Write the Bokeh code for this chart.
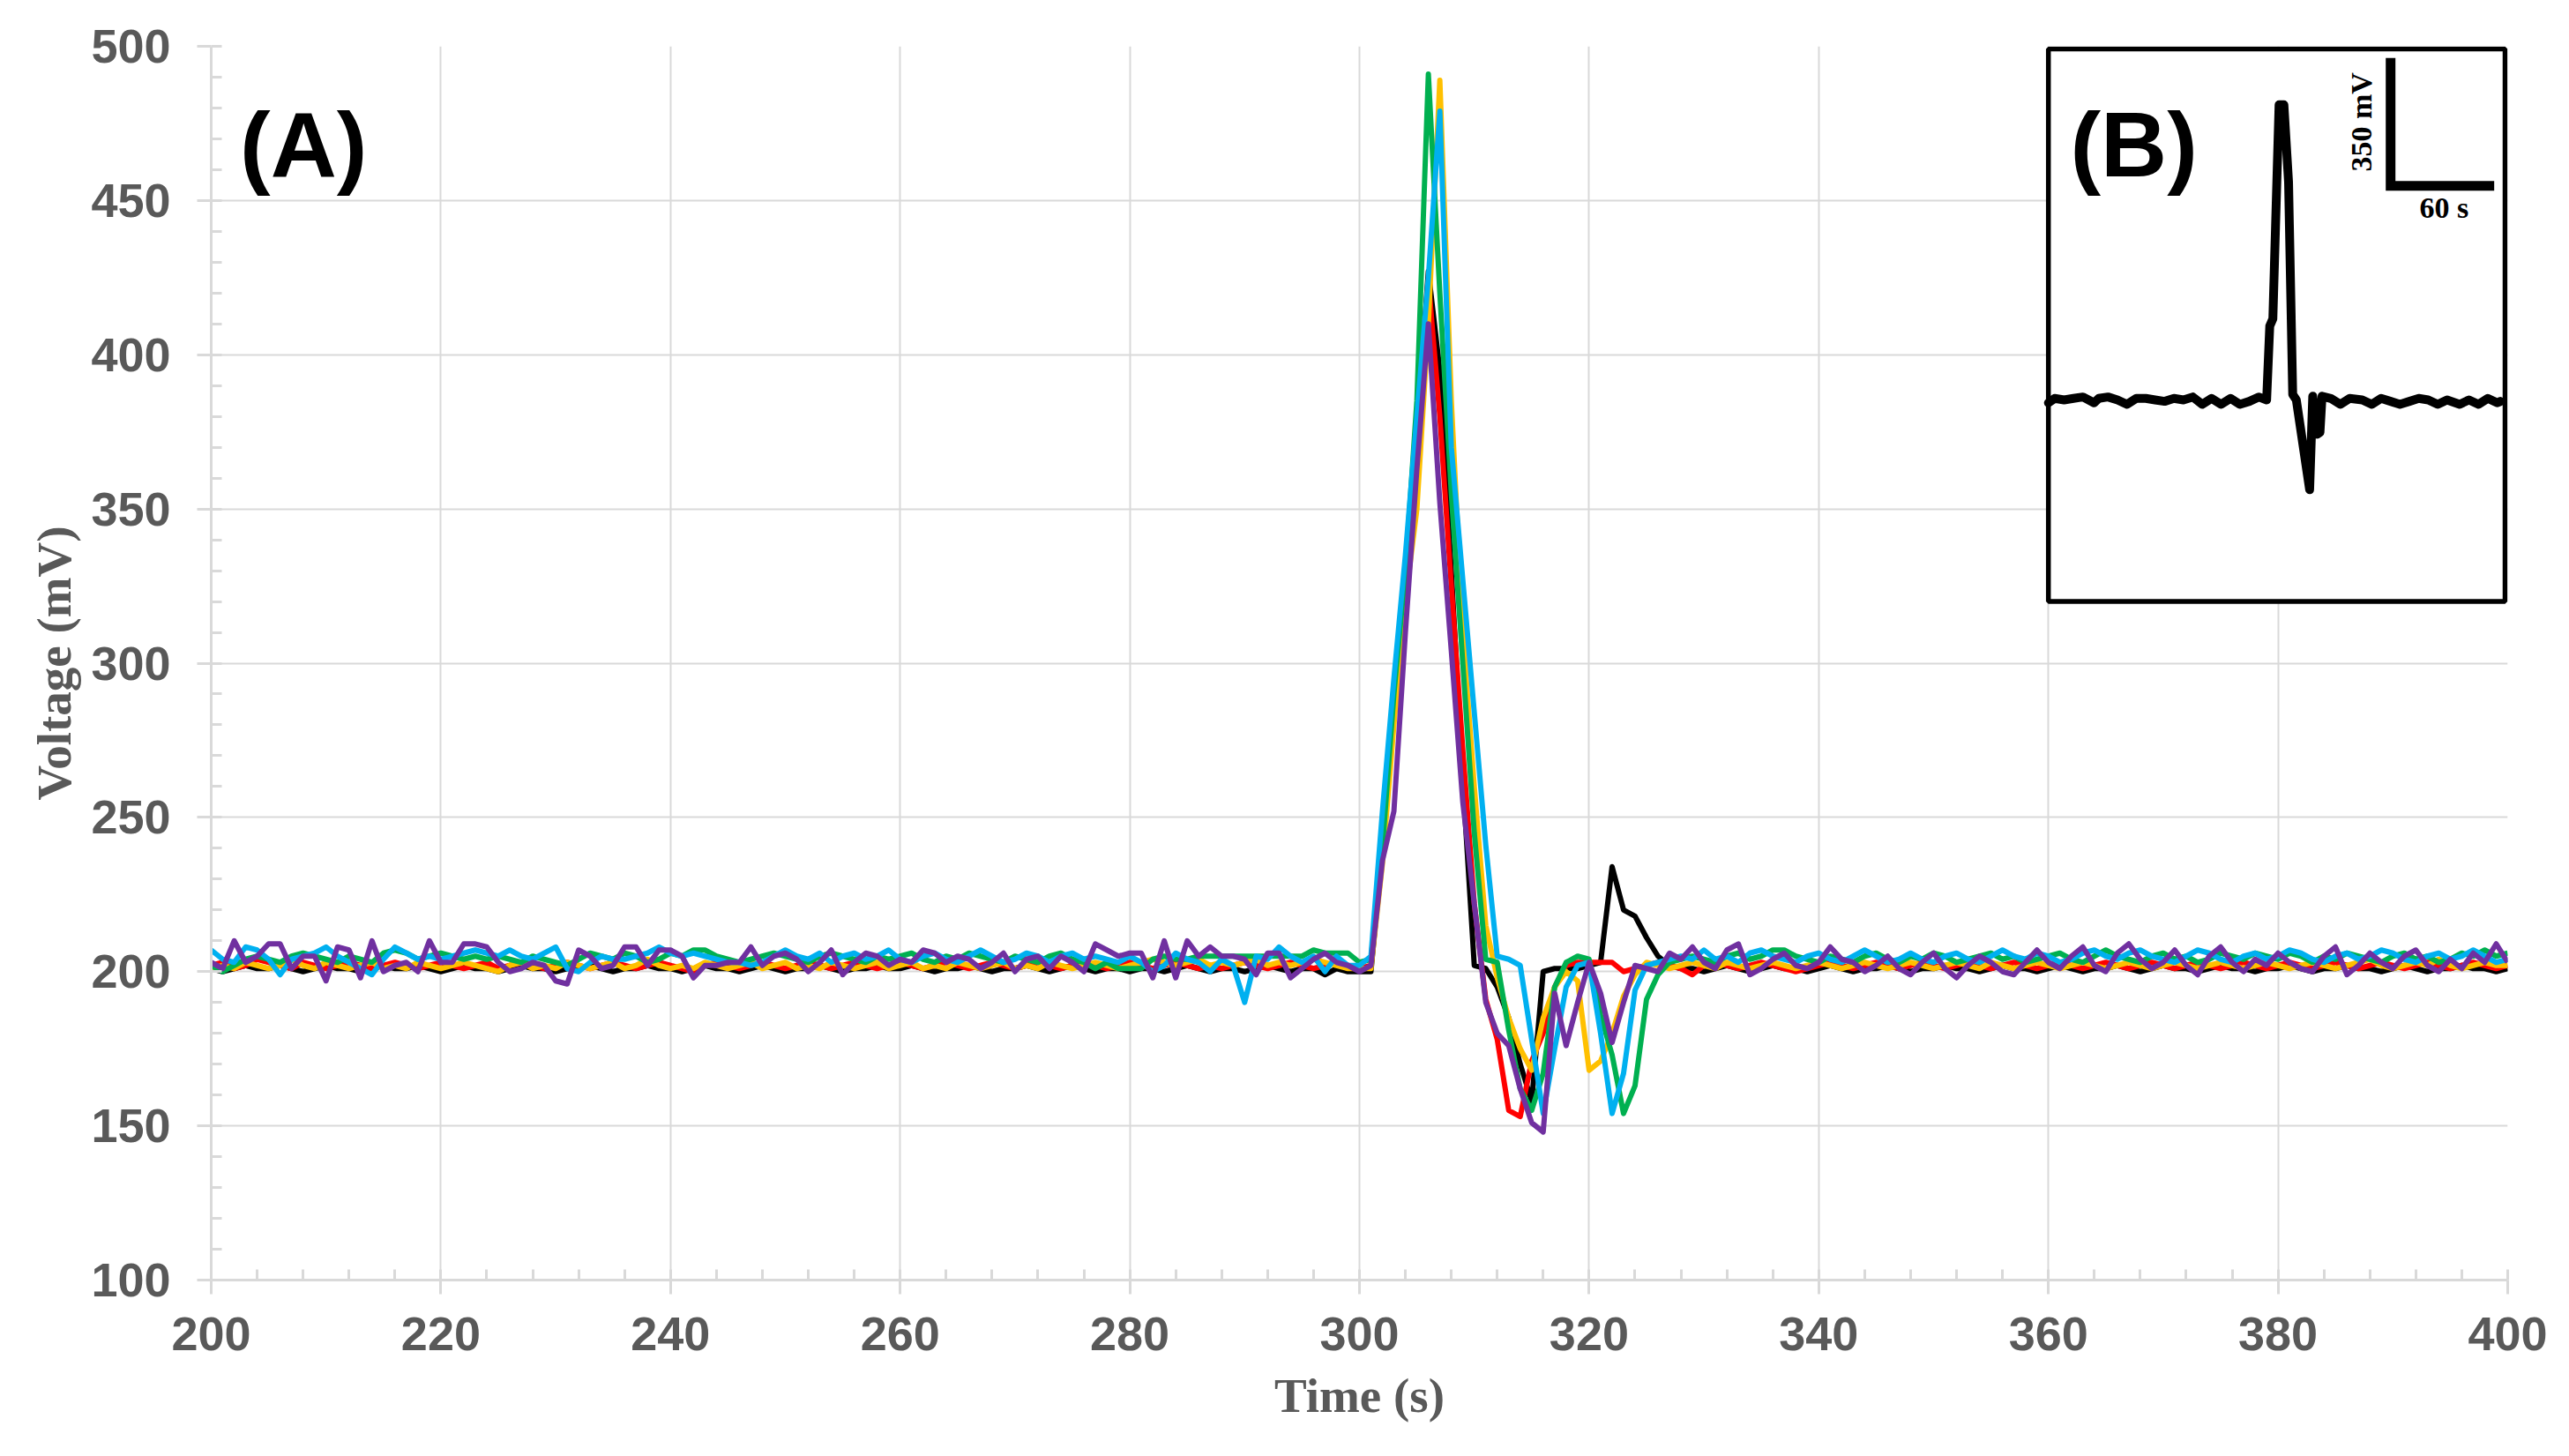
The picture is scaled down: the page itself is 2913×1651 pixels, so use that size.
from math import pi
from bokeh.plotting import figure
from bokeh.models import Range1d, Label, SingleIntervalTicker
from bokeh.embed import file_html
from bokeh.resources import INLINE

# ---------------- main chart data (Time in s, Voltage in mV) ----------------
time_s = list(range(200, 401))

black = [
    201, 200, 201, 202, 201, 201, 202, 201, 200, 201,
    202, 201, 201, 200, 201, 202, 201, 201, 202, 201,
    200, 201, 202, 201, 201, 200, 201, 202, 201, 201,
    200, 201, 201, 202, 201, 200, 201, 201, 202, 201,
    201, 200, 201, 202, 201, 201, 200, 201, 202, 201,
    200, 201, 201, 202, 201, 200, 201, 201, 202, 201,
    201, 202, 201, 200, 201, 201, 202, 201, 200, 201,
    201, 202, 201, 200, 201, 202, 201, 200, 201, 201,
    200, 201, 201, 200, 201, 202, 201, 200, 201, 201,
    200, 201, 202, 201, 200, 201, 201, 199, 201, 200,
    200, 200, 240, 290, 330, 375, 427, 395, 330, 262,
    202, 201, 195, 185, 170, 158, 200, 201, 201, 201,
    202, 203, 234, 220, 218, 211, 205, 202, 201, 201,
    200, 201, 202, 201, 200, 201, 202, 201, 201, 200,
    201, 202, 201, 200, 201, 201, 202, 201, 200, 201,
    201, 202, 201, 201, 200, 201, 202, 201, 201, 200,
    201, 202, 201, 200, 201, 201, 202, 201, 200, 201,
    202, 201, 201, 200, 201, 202, 201, 201, 200, 201,
    201, 202, 201, 200, 201, 201, 202, 201, 201, 200,
    201, 202, 201, 200, 201, 201, 202, 201, 201, 200,
    201,
]

red = [
    202, 203, 201, 202, 204, 203, 202, 201, 203, 202,
    201, 202, 203, 202, 201, 202, 203, 202, 201, 202,
    203, 202, 201, 202, 203, 201, 202, 203, 202, 201,
    202, 203, 202, 201, 202, 203, 202, 201, 202, 203,
    202, 201, 200, 202, 203, 202, 201, 202, 203, 202,
    201, 202, 203, 202, 201, 202, 203, 202, 201, 202,
    203, 202, 201, 202, 203, 202, 201, 202, 203, 202,
    201, 202, 203, 202, 201, 202, 203, 202, 201, 202,
    203, 202, 201, 202, 203, 202, 201, 202, 201, 202,
    203, 202, 201, 202, 203, 202, 201, 202, 203, 202,
    201, 202, 238, 285, 325, 370, 424, 380, 325, 272,
    222, 191, 178, 155, 153, 171, 180, 195, 202, 203,
    203, 203, 203, 200, 201, 202, 203, 202, 201, 199,
    202, 203, 202, 201, 202, 203, 202, 201, 200, 201,
    202, 203, 202, 201, 202, 203, 202, 201, 202, 203,
    202, 201, 202, 203, 202, 201, 202, 203, 202, 201,
    202, 203, 202, 201, 202, 203, 202, 201, 202, 203,
    202, 201, 202, 203, 202, 201, 202, 203, 202, 201,
    202, 203, 202, 201, 202, 203, 202, 201, 202, 203,
    202, 201, 202, 203, 202, 201, 202, 203, 202, 201,
    202,
]

yellow = [
    201, 202, 201, 203, 202, 201, 202, 204, 202, 201,
    203, 202, 201, 202, 203, 201, 202, 201, 203, 202,
    201, 202, 203, 202, 201, 200, 202, 203, 201, 202,
    201, 203, 202, 201, 202, 203, 201, 202, 204, 202,
    201, 202, 201, 203, 202, 201, 202, 203, 201, 202,
    203, 201, 202, 201, 203, 202, 201, 202, 203, 201,
    202, 203, 201, 202, 201, 203, 202, 201, 202, 203,
    201, 202, 201, 203, 202, 201, 202, 203, 202, 201,
    202, 203, 204, 203, 202, 203, 204, 202, 203, 202,
    203, 204, 202, 203, 202, 203, 204, 203, 202, 201,
    201, 201, 235, 280, 320, 350, 410, 489, 385, 310,
    260, 215, 198, 185, 175, 168, 185, 195, 200, 197,
    168, 171, 180, 192, 199, 203, 202, 201, 202, 203,
    202, 201, 203, 202, 201, 202, 203, 202, 201, 202,
    203, 202, 201, 202, 203, 202, 201, 202, 203, 202,
    201, 202, 203, 202, 201, 203, 202, 201, 202, 203,
    202, 201, 202, 203, 202, 201, 202, 203, 202, 201,
    202, 203, 202, 201, 202, 203, 202, 201, 202, 203,
    202, 201, 202, 203, 202, 201, 202, 203, 204, 202,
    201, 202, 203, 202, 204, 202, 201, 202, 203, 202,
    202,
]

green = [
    202, 200, 202, 204, 205, 204, 203, 205, 206, 205,
    204, 203, 205, 204, 203, 206, 207, 206, 204, 205,
    206, 205, 204, 205, 204, 205, 204, 203, 205, 204,
    203, 202, 204, 206, 205, 204, 206, 205, 203, 204,
    206, 205, 207, 207, 205, 204, 203, 204, 205, 206,
    205, 204, 203, 205, 206, 205, 204, 203, 205, 204,
    205, 206, 204, 203, 205, 204, 206, 205, 204, 203,
    205, 204, 203, 205, 206, 204, 203, 201, 203, 201,
    201, 201, 204, 205, 204, 204, 205, 205, 205, 205,
    205, 205, 205, 205, 205, 205, 207, 206, 206, 206,
    203, 204, 240, 290, 330, 385, 491, 420, 355, 300,
    245, 204, 203, 181, 162, 155, 167, 195, 203, 205,
    204, 186, 173, 154, 163, 191, 199, 203, 204, 205,
    204, 203, 205, 206, 204, 205, 207, 207, 205, 204,
    203, 205, 204, 203, 205, 206, 204, 203, 205, 204,
    206, 205, 203, 204, 205, 206, 204, 205, 203, 204,
    205, 206, 204, 203, 205, 207, 205, 204, 203, 205,
    206, 204, 205, 203, 204, 206, 205, 204, 206, 205,
    204, 206, 205, 203, 205, 204, 206, 205, 204, 203,
    205, 206, 204, 205, 203, 204, 206, 205, 207, 205,
    206,
]

cyan = [
    207, 204, 203, 208, 207, 204, 199, 204, 205, 206,
    208, 205, 203, 201, 199, 204, 208, 206, 204, 205,
    204, 205, 206, 207, 206, 205, 207, 205, 204, 206,
    208, 201, 200, 203, 205, 204, 204, 205, 206, 208,
    206, 205, 206, 205, 204, 203, 203, 202, 203, 205,
    207, 205, 204, 206, 203, 205, 206, 204, 205, 207,
    204, 203, 205, 206, 204, 203, 205, 207, 205, 203,
    204, 206, 205, 203, 205, 206, 204, 205, 204, 203,
    205, 203, 200, 202, 206, 204, 203, 200, 204, 202,
    190, 205, 204, 208, 205, 203, 205, 200, 205, 202,
    202, 205, 252, 295, 335, 380, 425, 479, 370, 327,
    284, 241, 205, 204, 202, 178, 154, 175, 195, 202,
    203, 180, 154, 167, 194, 202, 203, 204, 205, 204,
    207, 204, 205, 203, 206, 207, 205, 204, 203, 205,
    206, 204, 203, 205, 207, 205, 203, 204, 206, 204,
    203, 205, 206, 204, 203, 205, 207, 205, 204, 206,
    205, 203, 204, 206, 207, 205, 204, 206, 207, 205,
    204, 203, 205, 207, 206, 204, 203, 205, 206, 204,
    205, 207, 206, 204, 203, 205, 206, 204, 205, 207,
    206, 204, 203, 205, 206, 204, 205, 207, 205, 203,
    204,
]

purple = [
    203, 201, 210, 203, 205, 209, 209, 201, 205, 205,
    197, 208, 207, 198, 210, 200, 202, 203, 200, 210,
    203, 203, 209, 209, 208, 203, 200, 201, 203, 202,
    197, 196, 207, 205, 201, 202, 208, 208, 202, 207,
    207, 205, 198, 202, 202, 203, 203, 208, 202, 205,
    206, 204, 200, 203, 207, 199, 203, 206, 205, 202,
    204, 203, 207, 206, 203, 205, 204, 201, 203, 206,
    200, 204, 205, 201, 205, 203, 200, 209, 207, 205,
    206, 206, 198, 210, 198, 210, 205, 208, 205, 205,
    204, 199, 206, 206, 198, 201, 204, 206, 203, 202,
    200, 202, 236, 252, 310, 363, 410, 352, 304, 255,
    222, 190, 180, 176, 162, 151, 148, 193, 176, 190,
    203, 193, 177, 190, 202, 201, 200, 206, 204, 208,
    203, 201, 207, 209, 199, 201, 204, 206, 202, 201,
    203, 208, 204, 203, 200, 202, 205, 201, 199, 203,
    206, 201, 198, 202, 205, 203, 200, 199, 203, 207,
    203, 201, 205, 208, 202, 200, 206, 209, 204, 201,
    203, 207, 202, 199, 205, 208, 203, 200, 204, 202,
    206, 203, 201, 200, 205, 208, 199, 202, 206, 203,
    201, 205, 207, 202, 200, 204, 201, 206, 203, 209,
    203,
]

series = [("black", "#000000"), ("red", "#FF0000"), ("yellow", "#FFC000"),
          ("green", "#00B050"), ("cyan", "#00B0F0"), ("purple", "#7030A0")]
series_values = {"black": black, "red": red, "yellow": yellow,
                 "green": green, "cyan": cyan, "purple": purple}

# ---------------- inset (B) data: time (s) and voltage relative to baseline (mV) ----------------
inset_t = [0, 3.6, 9.1, 14.5, 20, 26.4, 29.1, 34.5, 40, 45.5, 50.9, 56.4, 61.8, 67.3,
           72.7, 78.2, 83.6, 89.1, 94.5, 100, 105.5, 110.9, 116.4, 121.8, 126.4,
           128.2, 130, 133.6, 136.4, 139.1, 141.5, 143.6, 151.3, 153.1, 155.6, 157.3,
           158.5, 163.6, 169.1, 174.5, 181.8, 187.3, 192.7, 198.2, 203.6, 209.1,
           214.5, 220, 225.5, 230.9, 238.2, 243.6, 249.1, 254.5, 260, 261.8]
inset_v = [-8, 4, 0, 4, 8, -8, 4, 8, 0, -12, 4, 4, 0, -4,
           4, 0, 8, -12, 4, -12, 4, -12, -4, 8, 0,
           202, 222, 808, 808, 596, 15, 0, -246, 10, -94, -89,
           10, 4, -12, 4, 0, -12, 4, -4, -12, -4,
           4, 0, -12, 0, -12, 0, -12, 4, -8, -4]
inset_t_span = 264.5          # seconds covered by the inset box
inset_v_min, inset_v_max = -552, 961   # mV covered by the inset box
scale_t, scale_v = 60, 350    # scale bar lengths
scale_origin_t, scale_origin_v = 198.2, 586

# ---------------- figure ----------------
X0, X1, Y0, Y1 = 200, 400, 100, 500
p = figure(width=2896, height=1634, x_range=Range1d(X0, X1), y_range=Range1d(Y0, Y1),
           output_backend="svg", toolbar_location=None,
           min_border_left=239, min_border_right=53, min_border_top=52, min_border_bottom=183)
p.outline_line_color = None
p.background_fill_color = "white"
p.border_fill_color = "white"

p.xaxis.ticker = SingleIntervalTicker(interval=20, num_minor_ticks=5)
p.yaxis.ticker = SingleIntervalTicker(interval=50, num_minor_ticks=5)

for ax in (p.xaxis[0], p.yaxis[0]):
    ax.axis_line_color = "#d9d9d9"
    ax.axis_line_width = 3
    ax.major_tick_line_color = "#d9d9d9"
    ax.major_tick_line_width = 3
    ax.minor_tick_line_color = "#d9d9d9"
    ax.minor_tick_line_width = 3
    ax.major_tick_in = 0
    ax.major_tick_out = 16
    ax.minor_tick_in = 12
    ax.minor_tick_out = 0
    ax.major_label_text_font = "Liberation Sans"
    ax.major_label_text_font_style = "bold"
    ax.major_label_text_font_size = "54px"
    ax.major_label_text_color = "#595959"
    ax.axis_label_text_font = "Liberation Serif"
    ax.axis_label_text_font_style = "bold"
    ax.axis_label_text_font_size = "55px"
    ax.axis_label_text_color = "#595959"

p.xaxis.axis_label = "Time (s)"
p.yaxis.axis_label = "Voltage (mV)"
p.xaxis.major_label_standoff = 26
p.yaxis.major_label_standoff = 30
p.xaxis.axis_label_standoff = 18
p.yaxis.axis_label_standoff = 8

p.grid.grid_line_color = "#d9d9d9"
p.grid.grid_line_width = 2

for name, color in series:
    p.line(time_s, series_values[name], line_color=color, line_width=6, line_join="round")

# ---------------- inset placed in the top-right corner of the plot area ----------------
in_left, in_right = 360.0, 399.77    # main-axis seconds
in_bottom, in_top = 320.0, 499.14    # main-axis mV
sx = inset_t_span / (in_right - in_left)
sy = (inset_v_max - inset_v_min) / (in_top - in_bottom)
p.extra_x_ranges = {"ix": Range1d((X0 - in_left) * sx, (X1 - in_left) * sx)}
p.extra_y_ranges = {"iy": Range1d(inset_v_min + (Y0 - in_bottom) * sy,
                                  inset_v_min + (Y1 - in_bottom) * sy)}

p.quad(left=[0], right=[inset_t_span], bottom=[inset_v_min], top=[inset_v_max],
       x_range_name="ix", y_range_name="iy",
       fill_color="white", line_color="black", line_width=5.5)
p.line(inset_t, inset_v, x_range_name="ix", y_range_name="iy",
       line_color="black", line_width=10, line_join="round", line_cap="round")
p.line([scale_origin_t, scale_origin_t, scale_origin_t + scale_t],
       [scale_origin_v + scale_v, scale_origin_v, scale_origin_v],
       x_range_name="ix", y_range_name="iy",
       line_color="black", line_width=11, line_join="miter")

p.add_layout(Label(x=scale_origin_t - 17, y=scale_origin_v + scale_v / 2, text="350 mV",
                   x_range_name="ix", y_range_name="iy", angle=pi / 2,
                   text_align="center", text_baseline="middle",
                   text_font="Liberation Serif", text_font_style="bold",
                   text_font_size="34px", text_color="black"))
p.add_layout(Label(x=scale_origin_t + scale_t / 2 + 1, y=scale_origin_v - 59, text="60 s",
                   x_range_name="ix", y_range_name="iy",
                   text_align="center", text_baseline="middle",
                   text_font="Liberation Serif", text_font_style="bold",
                   text_font_size="34px", text_color="black"))

# panel letters
p.add_layout(Label(x=202.5, y=468.2, text="(A)", text_align="left", text_baseline="alphabetic",
                   text_font="Liberation Sans", text_font_style="bold",
                   text_font_size="104px", text_color="black"))
p.add_layout(Label(x=361.9, y=468.2, text="(B)", text_align="left", text_baseline="alphabetic",
                   text_font="Liberation Sans", text_font_style="bold",
                   text_font_size="104px", text_color="black"))

open("out.html", "w").write(file_html(p, INLINE))
